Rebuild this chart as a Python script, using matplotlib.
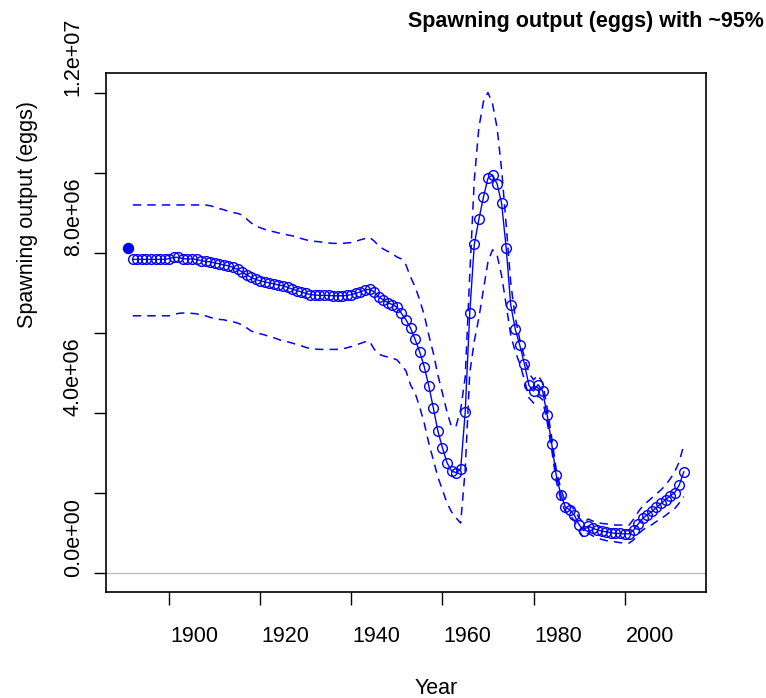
import matplotlib
matplotlib.use("Agg")
import matplotlib.pyplot as plt
from matplotlib.transforms import ScaledTranslation
import numpy as np

plt.rcParams["font.family"] = ["Liberation Sans", "DejaVu Sans"]

# data (eggs, millions)
virgin_year = 1891
virgin_value = 8.12

years = list(range(1892, 2014))

spawn = [
    7.84, 7.84, 7.84, 7.84, 7.84, 7.84, 7.84, 7.84,
    7.86, 7.89, 7.89, 7.86, 7.85, 7.85, 7.84, 7.81, 7.79, 7.78,
    7.75, 7.73, 7.70, 7.68, 7.64, 7.59, 7.53, 7.45, 7.39, 7.34,
    7.30, 7.28, 7.25, 7.23, 7.20, 7.18, 7.14, 7.10, 7.06, 7.03,
    6.99, 6.96, 6.95, 6.94, 6.94, 6.94, 6.93, 6.93, 6.93, 6.94,
    6.96, 6.99, 7.03, 7.08, 7.09, 7.03, 6.90, 6.83, 6.76, 6.71,
    6.65, 6.49, 6.33, 6.12, 5.84, 5.53, 5.16, 4.68, 4.13, 3.55,
    3.13, 2.76, 2.55, 2.51, 2.59, 4.02, 6.50, 8.22, 8.84, 9.39,
    9.87, 9.95, 9.73, 9.24, 8.12, 6.70, 6.09, 5.69, 5.23, 4.69,
    4.55, 4.71, 4.55, 3.95, 3.23, 2.44, 1.96, 1.65, 1.58, 1.44,
    1.21, 1.06, 1.18, 1.12, 1.08, 1.05, 1.03, 1.01, 0.99, 0.99,
    0.98, 0.98, 1.08, 1.23, 1.37, 1.46, 1.54, 1.64, 1.74, 1.83,
    1.93, 2.01, 2.20, 2.53,
]

upper = [
    9.20, 9.20, 9.20, 9.20, 9.20, 9.20, 9.20, 9.20,
    9.20, 9.20, 9.20, 9.20, 9.20, 9.20, 9.20, 9.20, 9.20, 9.18,
    9.15, 9.11, 9.08, 9.04, 9.01, 8.99, 8.95, 8.85, 8.75, 8.68,
    8.63, 8.59, 8.55, 8.53, 8.50, 8.48, 8.45, 8.43, 8.40, 8.36,
    8.33, 8.30, 8.29, 8.28, 8.26, 8.25, 8.24, 8.24, 8.24, 8.25,
    8.26, 8.29, 8.33, 8.36, 8.39, 8.30, 8.18, 8.10, 8.04, 7.98,
    7.90, 7.85, 7.70, 7.40, 7.15, 6.83, 6.45, 5.95, 5.50, 4.95,
    4.50, 4.03, 3.65, 3.68, 4.08, 4.90, 7.45, 9.83, 11.13, 11.78,
    12.01, 11.73, 11.13, 10.08, 8.70, 7.25, 6.38, 5.83, 5.40, 5.00,
    4.83, 4.95, 4.75, 4.13, 3.38, 2.58, 2.10, 1.78, 1.70, 1.58,
    1.38, 1.25, 1.35, 1.30, 1.26, 1.24, 1.23, 1.21, 1.20, 1.20,
    1.20, 1.20, 1.35, 1.53, 1.68, 1.78, 1.88, 1.98, 2.08, 2.20,
    2.35, 2.53, 2.78, 3.20,
]

lower = [
    6.43, 6.43, 6.43, 6.43, 6.43, 6.43, 6.43, 6.43,
    6.43, 6.46, 6.49, 6.50, 6.50, 6.49, 6.48, 6.45, 6.43, 6.39,
    6.36, 6.34, 6.33, 6.30, 6.28, 6.25, 6.20, 6.13, 6.05, 6.01,
    5.98, 5.95, 5.91, 5.88, 5.84, 5.80, 5.78, 5.75, 5.71, 5.68,
    5.64, 5.61, 5.60, 5.59, 5.59, 5.59, 5.59, 5.59, 5.60, 5.63,
    5.66, 5.70, 5.74, 5.78, 5.79, 5.60, 5.47, 5.43, 5.40, 5.37,
    5.33, 5.20, 5.05, 4.70, 4.50, 4.15, 3.75, 3.25, 2.83, 2.40,
    2.08, 1.75, 1.53, 1.38, 1.25, 2.58, 5.00, 5.80, 6.38, 7.08,
    7.78, 8.08, 7.95, 7.43, 6.70, 5.95, 5.53, 5.23, 4.83, 4.38,
    4.25, 4.43, 4.33, 3.78, 3.08, 2.30, 1.83, 1.53, 1.45, 1.30,
    1.05, 0.88, 1.00, 0.93, 0.88, 0.84, 0.81, 0.79, 0.78, 0.76,
    0.75, 0.75, 0.83, 0.98, 1.08, 1.15, 1.21, 1.29, 1.36, 1.44,
    1.53, 1.61, 1.75, 1.91,
]

xticks = [1900, 1920, 1940, 1960, 1980, 2000]
yticks = [0, 2e6, 4e6, 6e6, 8e6, 10e6, 12e6]
ylabels_shown = {0: "0.0e+00", 4e6: "4.0e+06", 8e6: "8.0e+06", 12e6: "1.2e+07"}

yrs = np.array(years)
sp = np.array(spawn) * 1e6
up = np.array(upper) * 1e6
lo = np.array(lower) * 1e6

W, H = 766, 698
fig = plt.figure(figsize=(W / 100, H / 100), dpi=100)
ax = fig.add_axes([106 / W, 1 - 592.3 / H, 600 / W, 519 / H])

blue = "#0000FF"
ax.axhline(0, color="#BEBEBE", lw=1.0, zorder=1)
ax.plot(yrs, up, color=blue, lw=1.1, dashes=(5.5, 4), zorder=2)
ax.plot(yrs, lo, color=blue, lw=1.1, dashes=(5.5, 4), zorder=2)
ax.plot(yrs, sp, color=blue, lw=1.0, marker="o", ms=7.0, mfc="none",
        mec=blue, mew=1.0, zorder=3)
ax.plot([virgin_year], [virgin_value * 1e6], "o", color=blue, ms=7.2, zorder=4)

# R style axis range (4% padding)
x0, x1 = virgin_year, years[-1]
dx = (x1 - x0) * 0.04
ax.set_xlim(x0 - dx, x1 + dx)
y1 = max(up)
ax.set_ylim(-0.04 * y1, y1 * 1.04)

ax.set_xticks(xticks)
ax.set_xticklabels([str(t) for t in xticks])
ax.set_yticks(yticks)
ax.set_yticklabels([ylabels_shown.get(t, "") for t in yticks])

ax.tick_params(axis="both", direction="out", length=9, width=1.0,
               labelsize=15.5, colors="black")
ax.tick_params(axis="x", pad=15)
ax.tick_params(axis="y", pad=7, labelrotation=90)
for lab in ax.get_yticklabels():
    lab.set_va("center")
    lab.set_transform(lab.get_transform() + ScaledTranslation(0, 0.36, fig.dpi_scale_trans))
for lab in ax.get_xticklabels():
    lab.set_transform(lab.get_transform() + ScaledTranslation(0.25, 0, fig.dpi_scale_trans))

for s in ax.spines.values():
    s.set_linewidth(1.2)
    s.set_color("black")

# title runs past the right edge, as in the original
fig.text(408 / W, 1 - 27 / H, "Spawning output (eggs) with ~95% asymptotic intervals",
         ha="left", va="baseline", fontsize=15.5, fontweight="bold")
fig.text(436 / W, 1 - 688 / H, "Year", ha="center", va="center", fontsize=15.5)
fig.text(28 / W, 1 - 215 / H, "Spawning output (eggs)", rotation=90,
         ha="center", va="center", fontsize=15.5)

fig.savefig("out.png", dpi=100)
